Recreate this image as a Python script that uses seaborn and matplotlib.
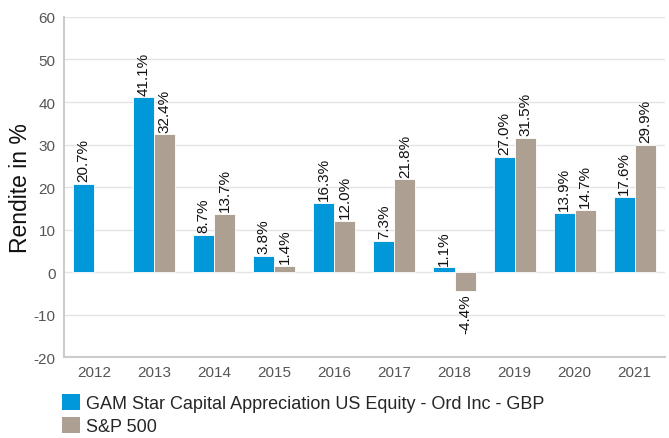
import matplotlib
matplotlib.use("Agg")
import matplotlib.pyplot as plt
import seaborn as sns
import pandas as pd
import numpy as np

years = ["2012", "2013", "2014", "2015", "2016", "2017", "2018", "2019", "2020", "2021"]
fund_name = "GAM Star Capital Appreciation US Equity - Ord Inc - GBP"
bench_name = "S&P 500"
fund_values = [20.7, 41.1, 8.7, 3.8, 16.3, 7.3, 1.1, 27.0, 13.9, 17.6]
bench_values = [np.nan, 32.4, 13.7, 1.4, 12.0, 21.8, -4.4, 31.5, 14.7, 29.9]
y_ticks = [-20, -10, 0, 10, 20, 30, 40, 50, 60]

sns.set_theme(style="white")
plt.rcParams["font.family"] = ["Liberation Sans", "DejaVu Sans"]

df = pd.DataFrame({
    "Jahr": years * 2,
    "Serie": [fund_name] * len(years) + [bench_name] * len(years),
    "Rendite": fund_values + bench_values,
})

fig = plt.figure(figsize=(6.69, 4.39), dpi=100)
ax = fig.add_axes([0.0957, 0.1845, 0.898, 0.7745])

palette = {fund_name: "#0098D8", bench_name: "#ADA092"}
sns.barplot(data=df, x="Jahr", y="Rendite", hue="Serie", order=years,
            hue_order=[fund_name, bench_name], palette=palette, saturation=1,
            width=0.7, edgecolor="white", linewidth=0.6, ax=ax, legend=True)

for cont in ax.containers:
    vals = cont.datavalues
    labels = ["" if np.isnan(v) else f"{v:.1f}%" for v in vals]
    ax.bar_label(cont, labels=labels, rotation=90, padding=2, fontsize=11, color="#111111")

ax.set_ylim(-20, 60)
ax.set_yticks(y_ticks)
ax.set_yticklabels([str(t) for t in y_ticks])
ax.set_xlim(-0.5, len(years) - 0.5)
ax.yaxis.grid(True, color="#E4E4E4", linewidth=1)
ax.set_axisbelow(True)
ax.tick_params(axis="both", labelsize=11, colors="#555555", length=0, pad=6)
ax.set_xlabel("")
ax.set_ylabel("Rendite in %", fontsize=16.5, color="#111111", labelpad=1)
for s in ["top", "right"]:
    ax.spines[s].set_visible(False)
for s in ["left", "bottom"]:
    ax.spines[s].set_color("#CCCCCC")
    ax.spines[s].set_linewidth(1.5)

leg = ax.legend(loc="upper left", bbox_to_anchor=(-0.016, -0.087), frameon=False,
                fontsize=13, handlelength=1.0, handleheight=1.0, handletextpad=0.35,
                labelspacing=0.25, borderaxespad=0)
for h in leg.legend_handles:
    h.set_edgecolor("none")

fig.savefig("out.png", dpi=100)
